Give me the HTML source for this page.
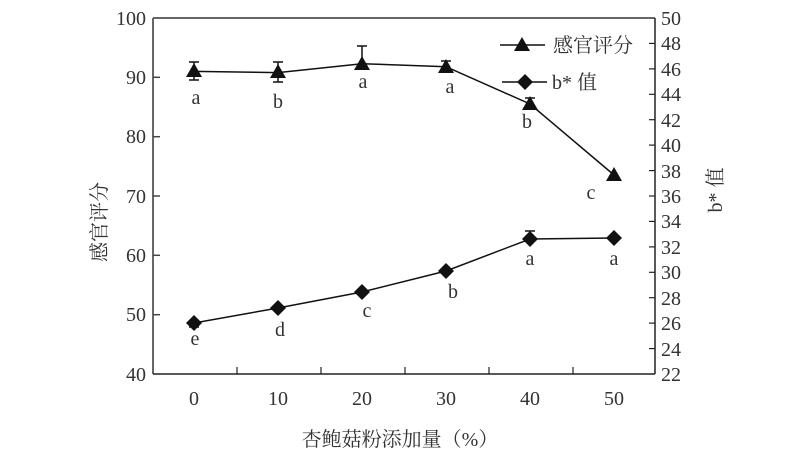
<!DOCTYPE html>
<html><head><meta charset="utf-8"><style>
body{margin:0;background:#fff}
svg text{font-family:"Liberation Serif","Noto Serif CJK SC",serif;fill:#333}
</style></head><body>
<svg width="800" height="468" viewBox="0 0 800 468" xmlns="http://www.w3.org/2000/svg">
<g stroke="#666" stroke-width="2" fill="none">
<line x1="153" y1="18" x2="655" y2="18"/>
<line x1="153" y1="18" x2="153" y2="374"/>
</g>
<g stroke="#222" stroke-width="1.5" fill="none">
<line x1="153" y1="374" x2="655" y2="374"/>
<line x1="655" y1="18" x2="655" y2="374"/>
</g>
<g stroke="#444" stroke-width="1.5">
<line x1="153" y1="77.3" x2="160" y2="77.3"/><line x1="153" y1="136.7" x2="160" y2="136.7"/>
<line x1="153" y1="196" x2="160" y2="196"/><line x1="153" y1="255.3" x2="160" y2="255.3"/>
<line x1="153" y1="314.7" x2="160" y2="314.7"/>
</g>
<g font-size="20" text-anchor="end">
<text x="146" y="25">100</text><text x="146" y="84">90</text><text x="146" y="143">80</text>
<text x="146" y="203">70</text><text x="146" y="262">60</text><text x="146" y="321">50</text><text x="146" y="381">40</text>
</g>
<g stroke="#222" stroke-width="1.2">
<line x1="649" y1="43.4" x2="655" y2="43.4"/><line x1="649" y1="68.9" x2="655" y2="68.9"/>
<line x1="649" y1="94.3" x2="655" y2="94.3"/><line x1="649" y1="119.7" x2="655" y2="119.7"/>
<line x1="649" y1="145.1" x2="655" y2="145.1"/><line x1="649" y1="170.6" x2="655" y2="170.6"/>
<line x1="649" y1="196" x2="655" y2="196"/><line x1="649" y1="221.4" x2="655" y2="221.4"/>
<line x1="649" y1="246.9" x2="655" y2="246.9"/><line x1="649" y1="272.3" x2="655" y2="272.3"/>
<line x1="649" y1="297.7" x2="655" y2="297.7"/><line x1="649" y1="323.1" x2="655" y2="323.1"/>
<line x1="649" y1="348.6" x2="655" y2="348.6"/>
</g>
<g font-size="20">
<text x="661" y="25">50</text><text x="661" y="50">48</text><text x="661" y="76">46</text>
<text x="661" y="101">44</text><text x="661" y="127">42</text><text x="661" y="152">40</text>
<text x="661" y="178">38</text><text x="661" y="203">36</text><text x="661" y="228">34</text>
<text x="661" y="254">32</text><text x="661" y="279">30</text><text x="661" y="305">28</text>
<text x="661" y="330">26</text><text x="661" y="356">24</text><text x="661" y="381">22</text>
</g>
<g stroke="#222" stroke-width="1.2">
<line x1="237" y1="374" x2="237" y2="367"/><line x1="321" y1="374" x2="321" y2="367"/>
<line x1="405" y1="374" x2="405" y2="367"/><line x1="489" y1="374" x2="489" y2="367"/>
<line x1="573" y1="374" x2="573" y2="367"/>
</g>
<g font-size="20" text-anchor="middle">
<text x="194" y="405">0</text><text x="278" y="405">10</text><text x="362" y="405">20</text>
<text x="446" y="405">30</text><text x="530" y="405">40</text><text x="614" y="405">50</text>
</g>
<text x="400" y="446" font-size="20" text-anchor="middle">杏鲍菇粉添加量（%）</text>
<text transform="translate(106,222) rotate(-90)" font-size="20" text-anchor="middle">感官评分</text>
<text transform="translate(722,190) rotate(-90)" font-size="20" text-anchor="middle">b* 值</text>
<g stroke="#111" stroke-width="1.5" fill="none">
<polyline points="194,71.4 278,72.6 362,63.7 446,66.7 530,104 614,175"/>
<path d="M194,62v18M189,62h10M189,80h10 M278,62v20M273,62h10M273,82h10 M362,46v18M357,46h10 M530,98v10M525,98h10M525,108h10 M446,61v8M441,61h10"/>
</g>
<g fill="#111">
<polygon points="194,63 186,77 202,77"/><polygon points="278,64 270,78 286,78"/>
<polygon points="362,56 354,70 370,70"/><polygon points="446,59 438,73 454,73"/>
<polygon points="530,96 522,110 538,110"/><polygon points="614,167 606,181 622,181"/>
</g>
<g stroke="#111" stroke-width="1.5" fill="none">
<polyline points="194,323 278,308 362,292 446,271 530,239 614,238"/>
<path d="M525,231h10M530,231v8M189,327h10"/>
</g>
<g fill="#111">
<polygon points="194,315 202,323 194,331 186,323"/><polygon points="278,300 286,308 278,316 270,308"/>
<polygon points="362,284 370,292 362,300 354,292"/><polygon points="446,263 454,271 446,279 438,271"/>
<polygon points="530,231 538,239 530,247 522,239"/><polygon points="614,230 622,238 614,246 606,238"/>
</g>
<g font-size="20" text-anchor="middle">
<text x="196" y="104">a</text><text x="278" y="108">b</text><text x="363" y="88">a</text>
<text x="450" y="93">a</text><text x="527" y="128">b</text><text x="591" y="199">c</text>
<text x="195" y="345">e</text><text x="280" y="336">d</text><text x="367" y="317">c</text>
<text x="453" y="298">b</text><text x="530" y="265">a</text><text x="614" y="265">a</text>
</g>
<g stroke="#111" stroke-width="1.5"><line x1="500" y1="45" x2="545" y2="45"/><line x1="502" y1="82" x2="547" y2="82"/></g>
<polygon points="522,37 514,51 530,51" fill="#111"/>
<polygon points="525,74 533,82 525,90 517,82" fill="#111"/>
<text x="553" y="52" font-size="20">感官评分</text>
<text x="552" y="89" font-size="20">b* 值</text>
</svg>
</body></html>
